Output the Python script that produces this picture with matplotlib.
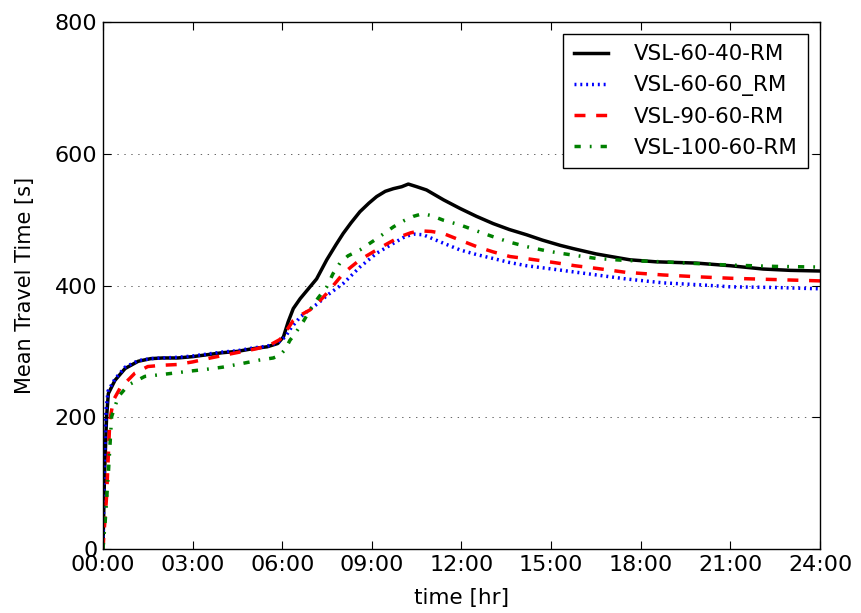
import matplotlib
matplotlib.use("Agg")
import matplotlib.pyplot as plt

# ---- data (hours, seconds) ----
t_black = [0, 0.05, 0.12, 0.18, 0.4, 0.74, 1.18, 1.6, 2.0, 2.5, 3.0, 3.5, 4.0, 4.5, 5.0, 5.5, 5.85,
           6.04, 6.2, 6.37, 6.6, 6.93, 7.15, 7.49, 7.8, 8.04, 8.3, 8.6, 8.9, 9.16, 9.45, 9.72, 10.0,
           10.22, 10.5, 10.83, 11.4, 11.95, 12.5, 13.06, 13.6, 14.18, 14.7, 15.3, 15.74, 16.5, 17.0,
           17.64, 18.5, 19.87, 21.0, 22.1, 23.0, 24.0]
y_black = [0, 110, 200, 236, 256, 274, 285, 289, 290, 290, 292, 295, 298, 300, 304, 307, 312,
           322, 345, 365, 380, 398, 410, 439, 462, 479, 495, 512, 525, 535, 543, 547, 550,
           554, 550, 545, 530, 517, 505, 494, 485, 477, 469, 461, 456, 448, 444,
           439, 436, 434, 430, 425, 423, 422]

t_blue = [0, 0.04, 0.1, 0.17, 0.4, 0.74, 1.18, 1.6, 2.0, 2.5, 3.0, 3.5, 4.0, 4.5, 5.0, 5.5, 5.85,
          6.1, 6.3, 6.6, 6.93, 7.2, 7.5, 8.04, 8.6, 9.16, 9.72, 10.1, 10.4, 10.72, 11.3, 11.95,
          12.5, 13.06, 13.6, 14.18, 15.2, 16.52, 17.5, 18.75, 20.0, 21.0, 22.5, 24.0]
y_blue = [0, 120, 210, 240, 258, 276, 286, 289, 290, 291, 293, 296, 299, 301, 305, 308, 313,
          322, 336, 352, 364, 373, 385, 403, 428, 449, 464, 474, 478, 477, 466, 454,
          447, 441, 435, 430, 424, 416, 410, 404, 401, 398, 397, 395]

t_red = [0, 0.06, 0.12, 0.23, 0.35, 0.57, 1.07, 1.5, 2.0, 2.47, 3.0, 3.6, 4.25, 4.7, 5.14, 5.6,
         5.92, 6.15, 6.37, 6.65, 6.93, 7.2, 7.49, 7.8, 8.04, 8.3, 8.6, 9.16, 9.5, 9.94, 10.3,
         10.61, 11.0, 11.39, 12.0, 12.51, 13.06, 13.62, 14.3, 15.08, 15.8, 16.52, 17.5, 18.75,
         20.0, 21.0, 22.5, 24.0]
y_red = [0, 40, 79, 196, 226, 244, 267, 277, 279, 280, 284, 290, 296, 300, 304, 310,
         318, 332, 347, 356, 363, 374, 388, 405, 418, 428, 439, 454, 463, 474, 480,
         483, 482, 479, 468, 459, 451, 444, 440, 435, 430, 426, 420, 416,
         413, 411, 409, 407]

t_green = [0, 0.07, 0.18, 0.29, 0.51, 0.85, 1.4, 2.0, 2.91, 3.5, 4.0, 4.59, 5.26, 5.7, 5.92, 6.1,
           6.26, 6.4, 6.7, 6.93, 7.2, 7.49, 7.7, 7.93, 8.2, 8.6, 9.16, 9.72, 10.1, 10.39, 10.7,
           11.0, 11.4, 11.95, 12.5, 13.06, 13.6, 14.18, 14.8, 15.3, 16.52, 17.5, 18.75, 20.0,
           20.99, 22.5, 24.0]
y_green = [0, 39, 115, 201, 231, 249, 262, 265, 270, 273, 276, 281, 287, 290, 294, 303,
           317, 325, 345, 363, 381, 398, 418, 434, 445, 454, 471, 489, 499, 505, 509,
           506, 499, 492, 483, 474, 466, 459, 453, 449, 441, 438, 436, 433,
           431, 429, 428]

labels = ["VSL-60-40-RM", "VSL-60-60_RM", "VSL-90-60-RM", "VSL-100-60-RM"]
xtick_pos = [0, 3, 6, 9, 12, 15, 18, 21, 24]
xtick_labels = ["00:00", "03:00", "06:00", "09:00", "12:00", "15:00", "18:00", "21:00", "24:00"]
ytick_pos = [0, 200, 400, 600, 800]

plt.rcParams['font.family'] = ['DejaVu Sans']
plt.rcParams['lines.scale_dashes'] = False
fig = plt.figure(figsize=(8.61, 6.13), dpi=100)
ax = fig.add_axes([0.1196, 0.1044, 0.8328, 0.8597])

lw = 2.5
ax.plot(t_black, y_black, color='k', lw=lw, ls='-', label=labels[0])
ax.plot(t_blue, y_blue, color='b', lw=lw, ls=(0, (1.4, 2.8)), label=labels[1], dash_capstyle='butt')
ax.plot(t_red, y_red, color='r', lw=lw, ls=(0, (7.9, 7.7)), label=labels[2], dash_capstyle='butt')
ax.plot(t_green, y_green, color='g', lw=lw, ls=(0, (4.5, 6.5, 1.3, 6.5)), label=labels[3], dash_capstyle='butt')

ax.set_xlim(0, 24)
ax.set_ylim(0, 800)
ax.set_xticks(xtick_pos)
ax.set_xticklabels(xtick_labels)
ax.set_yticks(ytick_pos)
ax.tick_params(direction='in', length=6, width=0.8, top=True, right=True, labelsize=16, pad=4)
ax.yaxis.grid(True, color='k', ls=(0, (1, 4)), lw=0.6, alpha=0.7)
ax.set_axisbelow(True)
for s in ax.spines.values():
    s.set_linewidth(1.0)

ax.set_xlabel("time [hr]", fontsize=15.5, labelpad=10)
ax.set_ylabel("Mean Travel Time [s]", fontsize=15, labelpad=14)

leg = ax.legend(loc='upper right', fontsize=15.4, fancybox=False, framealpha=1,
                edgecolor='k', handlelength=1.6, borderpad=0.5, labelspacing=0.5,
                handletextpad=1.2, borderaxespad=0.55)
leg.get_frame().set_linewidth(1.0)

fig.savefig("out.png", dpi=100, facecolor='white')
